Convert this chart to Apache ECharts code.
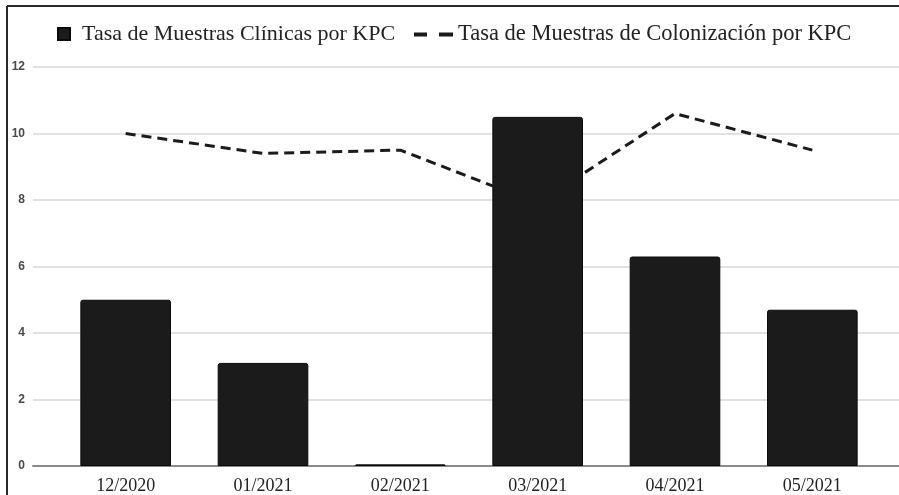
<!DOCTYPE html>
<html>
<head>
<meta charset="utf-8">
<script src="https://cdn.jsdelivr.net/npm/echarts@6/dist/echarts.min.js"></script>
<style>
html,body{margin:0;padding:0;background:#fff;}
#chart{width:899px;height:495px;}
</style>
</head>
<body>
<div id="chart"></div>
<script>
const categories = ['12/2020', '01/2021', '02/2021', '03/2021', '04/2021', '05/2021'];
const clinicalRate = [5.0, 3.1, 0.05, 10.5, 6.3, 4.7];
const colonizationRate = [10.0, 9.4, 9.5, 7.9, 10.6, 9.5];
const yTicks = [0, 2, 4, 6, 8, 10, 12];
const seriesNames = ['Tasa de Muestras Clínicas por KPC', 'Tasa de Muestras de Colonización por KPC'];

const chart = echarts.init(document.getElementById('chart'), null, {renderer: 'canvas'});
const yMin = yTicks[0], yMax = yTicks[yTicks.length - 1], yStep = yTicks[1] - yTicks[0];

const option = {
  backgroundColor: '#ffffff',
  animation: false,
  graphic: [
    {type: 'line', shape: {x1: 7, y1: 6, x2: 7, y2: 495}, style: {stroke: '#2a2a2a', lineWidth: 2}},
    {type: 'line', shape: {x1: 7, y1: 6, x2: 899, y2: 6}, style: {stroke: '#2a2a2a', lineWidth: 2}}
  ],
  legend: [
    {
      data: [{name: seriesNames[0], icon: 'rect'}],
      left: 57, top: 23, padding: 0,
      itemWidth: 12, itemHeight: 12,
      textStyle: {fontFamily: 'Liberation Serif', fontSize: 22, color: '#222', padding: [0, 0, 0, 7]}
    },
    {
      data: [{name: seriesNames[1], icon: 'path://M0,0h13v4h-13z M25,0h14v4h-14z'}],
      left: 414, top: 23, padding: 0,
      itemWidth: 39, itemHeight: 4,
      textStyle: {fontFamily: 'Liberation Serif', fontSize: 22.5, color: '#222'}
    }
  ],
  grid: [
    {left: 33, right: 0, top: 67, bottom: 29, containLabel: false},
    {left: 57, right: 18, top: 67, bottom: 29, containLabel: false}
  ],
  xAxis: [
    {
      gridIndex: 0, type: 'value', min: 0, max: 1,
      axisLine: {show: true, lineStyle: {color: '#8a8a8a', width: 2}},
      axisTick: {show: false}, axisLabel: {show: false}, splitLine: {show: false}
    },
    {
      gridIndex: 1, type: 'category', data: categories,
      axisLine: {show: false}, axisTick: {show: false},
      axisLabel: {fontFamily: 'Liberation Serif', fontSize: 18, color: '#222', margin: 11}
    }
  ],
  yAxis: [
    {
      gridIndex: 0, type: 'value', min: yMin, max: yMax, interval: yStep,
      axisLine: {show: false}, axisTick: {show: false},
      axisLabel: {fontFamily: 'Liberation Sans', fontWeight: 'bold', fontSize: 12, color: '#4a4a4a', margin: 8},
      splitLine: {show: true, lineStyle: {color: '#e2e2e2', width: 2}}
    },
    {
      gridIndex: 1, type: 'value', min: yMin, max: yMax, interval: yStep,
      show: false, splitLine: {show: false}
    }
  ],
  series: [
    {
      name: seriesNames[0], type: 'bar', xAxisIndex: 1, yAxisIndex: 1,
      data: clinicalRate, barWidth: '66%',
      itemStyle: {color: '#1b1b1b', borderColor: '#0a0a0a', borderWidth: 1, borderRadius: [2, 2, 0, 0]}
    },
    {
      name: seriesNames[1], type: 'line', xAxisIndex: 1, yAxisIndex: 1,
      data: colonizationRate, showSymbol: false, symbol: 'none', color: '#1b1b1b',
      lineStyle: {color: '#1b1b1b', width: 3, type: [10, 6]}, z: 5
    }
  ]
};
chart.setOption(option);
</script>
</body>
</html>
